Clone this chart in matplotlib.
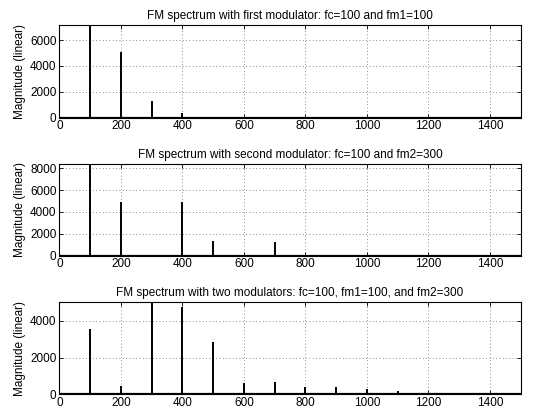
import matplotlib.pyplot as plt

plt.rcParams['font.family'] = ['Liberation Sans', 'DejaVu Sans']
plt.rcParams['font.size'] = 8.5

# peak frequencies (Hz) and magnitudes
freq1 = [100, 200, 300, 400, 500]
mag1 = [7200, 5100, 1280, 390, 50]
freq2 = [100, 200, 400, 500, 700, 800]
mag2 = [8430, 4890, 4910, 1310, 1290, 40]
freq3 = [100, 200, 300, 400, 500, 600, 700, 800, 900, 1000, 1100, 1200]
mag3 = [3545, 436, 5040, 4760, 2855, 620, 675, 400, 380, 275, 145, 30]

titles = ['FM spectrum with first modulator: fc=100 and fm1=100',
          'FM spectrum with second modulator: fc=100 and fm2=300',
          'FM spectrum with two modulators: fc=100, fm1=100, and fm2=300']
yticks = [[0, 2000, 4000, 6000],
          [0, 2000, 4000, 6000, 8000],
          [0, 2000, 4000]]
xticks = [0, 200, 400, 600, 800, 1000, 1200, 1400]

fig = plt.figure(figsize=(5.4, 4.11), dpi=100)
rects = [[0.110, 0.714, 0.854, 0.226],
         [0.110, 0.378, 0.854, 0.224],
         [0.110, 0.041, 0.854, 0.2245]]

for rect, f, m, title, yt in zip(rects, [freq1, freq2, freq3], [mag1, mag2, mag3], titles, yticks):
    ax = fig.add_axes(rect)
    ax.vlines(f, 0, m, color='black', linewidth=1.4)
    ax.axhline(0, color='black', linewidth=1.6)
    ax.set_xlim(0, 1500)
    ax.set_ylim(0, max(m))
    ax.set_xticks(xticks)
    ax.set_yticks(yt)
    ax.grid(True, linestyle=(0, (1, 3)), color='#666666', linewidth=0.6)
    ax.tick_params(direction='in', top=True, right=True, length=3, width=0.6, pad=2)
    for s in ax.spines.values():
        s.set_linewidth(0.8)
    ax.set_title(title, fontsize=8.5, pad=4)
    ax.set_ylabel('Magnitude (linear)', fontsize=8.5, labelpad=3)

fig.savefig('out.png', dpi=100)
